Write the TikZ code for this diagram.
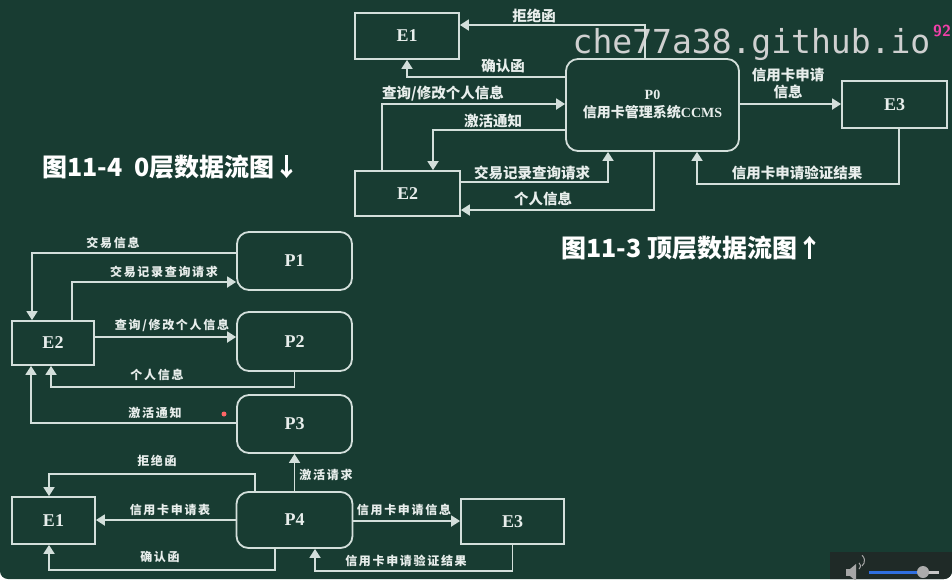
\documentclass[tikz,border=0pt]{standalone}
\usepackage{fontspec}
\setmainfont{Liberation Serif}
\newfontfamily\cjk{Noto Sans CJK SC}
\newfontfamily\cjksp{Noto Sans CJK SC}[LetterSpace=14]
\newfontfamily\wmfont{DejaVu Sans Mono}
\usetikzlibrary{arrows.meta}
\definecolor{bg}{HTML}{183C32}
\definecolor{ln}{HTML}{D3DFDB}
\definecolor{txt}{HTML}{E8EEEC}
\definecolor{panel}{HTML}{1F2A27}
\definecolor{slider}{HTML}{2F6FE0}
\tikzset{
  ent/.style={draw=ln, line width=1.8, text=txt, inner sep=0,
    font=\bfseries\fontsize{18}{20}\selectfont},
  proc/.style={ent, rounded corners=12},
  flow/.style={draw=ln, line width=1.8, -{Triangle[width=11pt,length=9pt]}},
  tlab/.style={text=txt, inner sep=0, font=\cjk\bfseries\fontsize{14.5}{17}\selectfont},
  blab/.style={text=txt, inner sep=0, font=\cjksp\bfseries\fontsize{12}{14}\selectfont},
  captxt/.style={text=white, inner sep=0, font=\cjk\bfseries\fontsize{25}{28}\selectfont},
}
\begin{document}
\begin{tikzpicture}[x=1pt,y=-1pt]
\useasboundingbox (0,0) rectangle (952,579);
\fill[white] (0,0) rectangle (952,579);
\fill[bg] (0,0) -- (952,0) [rounded corners=8] -- (952,579) -- (0,579) [sharp corners] -- (0,0) -- cycle;

% ---------- top diagram ----------
\node[ent, minimum width=104, minimum height=46] (tE1) at (407,36) {E1};
\node[proc, minimum width=173, minimum height=92, align=center,
      font=\bfseries\fontsize{14}{18}\selectfont] (P0) at (652.5,105)
      {P0\\{\cjk\bfseries 信用卡管理系统}CCMS};
\node[ent, minimum width=105, minimum height=47] (tE3) at (894.5,104.5) {E3};
\node[ent, minimum width=105, minimum height=45] (tE2) at (407.5,193.5) {E2};

\draw[flow] (P0.north -| 645,0) |- (tE1.east |- 0,25);
\node[tlab] (t1) at (534,16) {拒绝函};
\draw[flow] (P0.west |- 0,77) -| (tE1.south);
\node[tlab] (t2) at (503,66) {确认函};
\draw[flow] (tE2.north -| 382,0) |- (P0.west |- 0,104);
\node[tlab] (t3) at (443,94) {查询/修改个人信息};
\draw[flow] (P0.west |- 0,130) -| (tE2.north -| 433,0);
\node[tlab] (t4) at (493,121) {激活通知};
\draw[flow] (tE2.east |- 0,182) -| (P0.south -| 608,0);
\node[tlab] (t5) at (532,173) {交易记录查询请求};
\draw[flow] (P0.south -| 654,0) |- (tE2.east |- 0,210);
\node[tlab] (t6) at (543,199) {个人信息};
\draw[flow] (P0.east |- 0,104) -- (tE3.west |- 0,104);
\node[tlab, align=center] (t7) at (788,83) {信用卡申请\\信息};
\draw[flow] (tE3.south -| 899,0) |- (697,184) -- (P0.south -| 697,0);
\node[tlab] (t8) at (797,173) {信用卡申请验证结果};

% ---------- bottom diagram ----------
\node[proc, minimum width=115, minimum height=58] (P1) at (294.5,261) {P1};
\node[proc, minimum width=115, minimum height=59] (P2) at (294.5,341.5) {P2};
\node[proc, minimum width=115, minimum height=58] (P3) at (294.5,424) {P3};
\node[proc, minimum width=116, minimum height=56] (P4) at (294.5,520) {P4};
\node[ent, minimum width=82, minimum height=44] (bE2) at (53,343) {E2};
\node[ent, minimum width=83, minimum height=47] (bE1) at (53.5,520.5) {E1};
\node[ent, minimum width=103, minimum height=45] (bE3) at (512.5,521.5) {E3};

\draw[flow] (P1.west |- 0,253) -| (bE2.north -| 32,0);
\node[blab] (b1) at (113,243) {交易信息};
\draw[flow] (bE2.north -| 72,0) |- (P1.west |- 0,282);
\node[blab] (b2) at (164,272) {交易记录查询请求};
\draw[flow] (bE2.east |- 0,337) -- (P2.west |- 0,337);
\node[blab] (b3) at (172,325) {查询/修改个人信息};
\draw[flow] (P2.south) |- (51,387) -- (bE2.south -| 51,0);
\node[blab] (b4) at (157,375) {个人信息};
\draw[flow] (P3.west |- 0,423) -| (bE2.south -| 31,0);
\node[blab] (b5) at (155,413) {激活通知};
\fill[red!60!white] (224,414) circle (2.5);
\draw[flow] (P4.north) -- (P3.south);
\node[blab] (b6) at (326,475) {激活请求};
\draw[flow] (P4.north -| 255,0) |- (49,474) -- (bE1.north -| 49,0);
\node[blab] (b7) at (157,461) {拒绝函};
\draw[flow] (P4.west) -- (bE1.east |- P4.west);
\node[blab] (b8) at (170,510) {信用卡申请表};
\draw[flow] (P4.south -| 275,0) |- (49,570) -- (bE1.south -| 49,0);
\node[blab] (b9) at (160,557) {确认函};
\draw[flow] (P4.east |- 0,521) -- (bE3.west |- 0,521);
\node[blab] (b10) at (404,510) {信用卡申请信息};
\draw[flow] (bE3.south) |- (315,571) -- (P4.south -| 315,0);
\node[blab] (b11) at (406,561) {信用卡申请验证结果};

% ---------- captions ----------
\node[captxt] (c4) at (171,167) {图11-4\ \ 0层数据流图↓};
\node[captxt] (c3) at (692,248) {图11-3 顶层数据流图↑};

% ---------- overlay ----------
\node[text=gray!30, opacity=0.95, inner sep=0, anchor=base,
      font=\wmfont\fontsize{33}{36}\selectfont] (wm) at (751.5,53) {che77a38.github.io};
\node[text=magenta!75!white, inner sep=0, anchor=west,
      font=\sffamily\bfseries\fontsize{16}{18}\selectfont] (wm2) at (933,31) {92};
\fill[panel] (830,552) -- (952,552) [rounded corners=8] -- (952,579) [sharp corners] -- (830,579) -- cycle;
\fill[gray!70] (846,569) rectangle (850,576);
\fill[gray!70] (850,569) -- (856,564) -- (856,581) -- (850,576) -- cycle;
\draw[gray!70, line width=1] (859,569) arc (50:-50:4);
\draw[gray!70, line width=1] (862,566) arc (50:-50:7);
\draw[gray!45, line width=3] (923,572) -- (939,572);
\draw[slider, line width=3] (869,572) -- (923,572);
\fill[gray!65] (923,572) circle (6);
\end{tikzpicture}
\end{document}
